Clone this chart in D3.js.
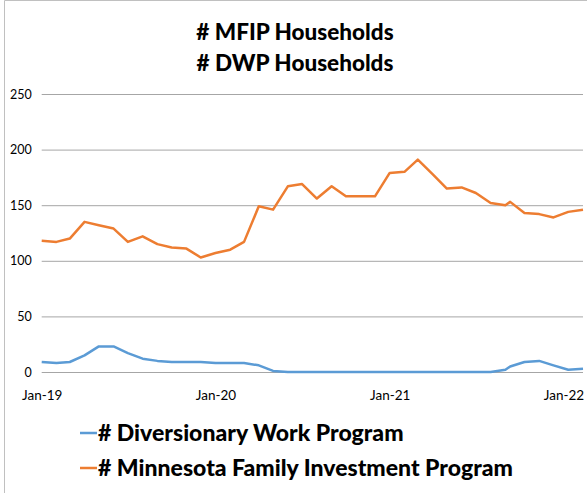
<!DOCTYPE html>
<html>
<head>
<meta charset="utf-8">
<script src="https://cdn.jsdelivr.net/npm/d3@7"></script>
<style>
  body { margin: 0; background: #fff; }
  svg { display: block; font-family: Lato, "Open Sans", sans-serif; }
</style>
</head>
<body>
<svg id="chart" width="587" height="493"></svg>
<script>
// monthly report dates (last few were reported on the 11th)
const dates = [
  "2019-01-01","2019-02-01","2019-03-01","2019-04-01","2019-05-01","2019-06-01",
  "2019-07-01","2019-08-01","2019-09-01","2019-10-01","2019-11-01","2019-12-01",
  "2020-01-01","2020-02-01","2020-03-01","2020-04-01","2020-05-01","2020-06-01",
  "2020-07-01","2020-08-01","2020-09-01","2020-10-01","2020-11-01","2020-12-01",
  "2021-01-01","2021-02-01","2021-03-01","2021-04-01","2021-05-01","2021-06-01",
  "2021-07-01","2021-08-01","2021-09-01","2021-09-11","2021-10-11","2021-11-11",
  "2021-12-11","2022-01-11","2022-02-11"
];

const dwp = [9, 8, 9, 15, 23, 23, 17, 12, 10, 9, 9, 9,
             8, 8, 8, 6, 1, 0, 0, 0, 0, 0, 0, 0,
             0, 0, 0, 0, 0, 0, 0, 0, 2, 5, 9, 10,
             6, 2, 3];

const mfip = [118, 117, 120, 135, 132, 129, 117, 122, 115, 112, 111, 103,
              107, 110, 117, 149, 146, 167, 169, 156, 167, 158, 158, 158,
              179, 180, 191, 178, 165, 166, 161, 152, 150, 153, 143, 142,
              139, 144, 146];

const yTicks = [0, 50, 100, 150, 200, 250];
const xTickLabels = ["Jan-19", "Jan-20", "Jan-21", "Jan-22"];

const titleLines = ["# MFIP Households", "# DWP Households"];
const seriesNames = ["# Diversionary Work Program", "# Minnesota Family Investment Program"];
const seriesColors = ["#5b9bd5", "#ed7d31"];

const parse = d3.timeParse("%Y-%m-%d");
const xDates = dates.map(parse);

const svg = d3.select("#chart");
const plotLeft = 41.7, plotRight = 583, plotTop = 94, plotBottom = 372;

// outer frame
svg.append("path")
   .attr("d", "M4.5,493 V0.5 H587")
   .attr("fill", "none")
   .attr("stroke", "#c0c0c0")
   .attr("stroke-width", 1);

const x = d3.scaleTime()
    .domain(d3.extent(xDates))
    .range([plotLeft, plotRight]);

const y = d3.scaleLinear()
    .domain([0, 250])
    .range([plotBottom, plotTop]);

// y gridlines + labels
const yAxis = svg.append("g")
    .attr("transform", `translate(${plotLeft},0)`)
    .call(d3.axisLeft(y).tickValues(yTicks).tickSize(-(plotRight - plotLeft)).tickPadding(10));
yAxis.select(".domain").remove();
yAxis.selectAll(".tick line").attr("stroke", "#a6a6a6").attr("stroke-width", 1);
yAxis.selectAll("text")
     .attr("fill", "#000")
     .style("font-size", "12.5px")
     .style("font-family", "Lato, sans-serif");

// x labels (Jan of each year)
const xTickDates = xTickLabels.map(d3.timeParse("%b-%y"));
const xAxis = svg.append("g")
    .attr("transform", `translate(0,${plotBottom})`)
    .call(d3.axisBottom(x).tickValues(xTickDates).tickFormat(d3.timeFormat("%b-%y")).tickSize(0).tickPadding(18));
xAxis.select(".domain").remove();
xAxis.selectAll("text")
     .attr("fill", "#000")
     .style("font-size", "13.5px")
     .style("font-family", "Lato, sans-serif");

// lines
const line = d3.line()
    .x((d, i) => x(xDates[i]))
    .y(d => y(d));

[dwp, mfip].forEach(function(vals, k){
    svg.append("path")
       .datum(vals)
       .attr("d", line)
       .attr("fill", "none")
       .attr("stroke", seriesColors[k])
       .attr("stroke-width", 2.5)
       .attr("stroke-linejoin", "round");
});

// title
svg.selectAll(".title")
   .data(titleLines)
   .enter()
   .append("text")
   .attr("class", "title")
   .attr("x", 295)
   .attr("y", (d, i) => 40 + i * 31)
   .attr("text-anchor", "middle")
   .style("font-size", "22.5px")
   .style("font-weight", "900")
   .text(d => d);

// legend
const legend = svg.selectAll(".legend")
   .data(seriesNames)
   .enter()
   .append("g")
   .attr("class", "legend")
   .attr("transform", (d, i) => `translate(80,${433 + i * 35})`);

legend.append("line")
   .attr("x1", 0).attr("x2", 17)
   .attr("y1", 0).attr("y2", 0)
   .attr("stroke", (d, i) => seriesColors[i])
   .attr("stroke-width", 2.5);

legend.append("text")
   .attr("x", 18)
   .attr("dy", "0.35em")
   .style("font-size", "23px")
   .style("font-weight", "900")
   .text(d => d);
</script>
</body>
</html>
